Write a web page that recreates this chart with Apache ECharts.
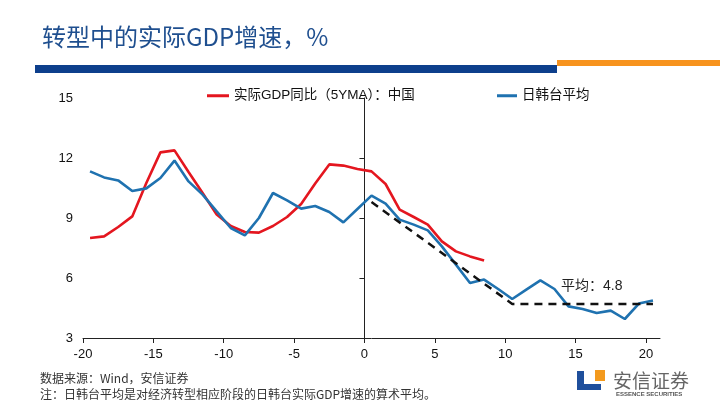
<!DOCTYPE html>
<html>
<head>
<meta charset="utf-8">
<script src="https://cdn.jsdelivr.net/npm/echarts@6/dist/echarts.min.js"></script>
<style>
html,body{margin:0;padding:0;background:#fff;}
#c{width:720px;height:405px;}
</style>
</head>
<body>
<div id="c"></div>
<script>
// ---- data ----
var chinaX = [-19.5,-18.5,-17.5,-16.5,-15.5,-14.5,-13.5,-12.5,-11.5,-10.5,-9.5,-8.5,-7.5,-6.5,-5.5,-4.5,-3.5,-2.5,-1.5,-0.5,0.5,1.5,2.5,3.5,4.5,5.5,6.5,7.5,8.5];
var chinaY = [8.0,8.08,8.55,9.08,10.75,12.28,12.38,11.3,10.25,9.17,8.6,8.3,8.27,8.6,9.05,9.7,10.72,11.68,11.62,11.45,11.33,10.7,9.42,9.05,8.67,7.83,7.33,7.08,6.87];
var asiaX = [-19.5,-18.5,-17.5,-16.5,-15.5,-14.5,-13.5,-12.5,-11.5,-10.5,-9.5,-8.5,-7.5,-6.5,-5.5,-4.5,-3.5,-2.5,-1.5,-0.5,0.5,1.5,2.5,3.5,4.5,5.5,6.5,7.5,8.5,9.5,10.5,11.5,12.5,13.5,14.5,15.5,16.5,17.5,18.5,19.5,20.5];
var asiaY = [11.33,11.03,10.88,10.35,10.48,11.0,11.87,10.83,10.17,9.33,8.5,8.13,9.0,10.25,9.88,9.47,9.6,9.3,8.78,9.45,10.12,9.72,8.92,8.67,8.38,7.58,6.67,5.75,5.92,5.45,4.95,5.42,5.88,5.45,4.58,4.45,4.25,4.37,3.95,4.72,4.88];
var trendX = [0.5,10.5,20.5];
var trendY = [9.8,4.7,4.7];
var seriesNames = ['实际GDP同比（5YMA）：中国','日韩台平均'];
var avgLabel = '平均：4.8';
var titleText = '转型中的实际GDP增速，%';
var sourceText = '数据来源：Wind，安信证券';
var noteText = '注：日韩台平均是对经济转型相应阶段的日韩台实际GDP增速的算术平均。';

function pairs(xs, ys){ return xs.map(function(x,i){ return [x, ys[i]]; }); }

var FONT = '"Liberation Sans", Arial, "Noto Sans CJK SC", sans-serif';
var CJK = '"Noto Sans CJK SC", sans-serif';
var chart = echarts.init(document.getElementById('c'), null, {renderer:'canvas'});
chart.setOption({
  animation:false,
  backgroundColor:'#fff',
  textStyle:{fontFamily:FONT},
  grid:{left:83, right:60, top:98, bottom:67, containLabel:false},
  legend:[
    {left:207, top:89, padding:0, itemWidth:22, itemHeight:3, icon:'rect',
     data:[seriesNames[0]], textStyle:{fontSize:13.5, color:'#111', fontFamily:FONT}},
    {left:497, top:89, padding:0, itemWidth:20, itemHeight:3, icon:'rect',
     data:[seriesNames[1]], textStyle:{fontSize:13.5, color:'#111', fontFamily:FONT}}
  ],
  xAxis:{
    type:'value', min:-20, max:21, interval:5,
    axisLine:{show:true, onZero:false, lineStyle:{color:'#222', width:1}},
    axisTick:{show:true, length:5, lineStyle:{color:'#222'}},
    axisLabel:{fontSize:13, color:'#111', margin:10, fontFamily:FONT},
    splitLine:{show:false}
  },
  yAxis:[
    {type:'value', min:3, max:15, interval:3, position:'left',
     axisLine:{show:false, onZero:false}, axisTick:{show:false},
     axisLabel:{fontSize:13, color:'#111', margin:10, fontFamily:FONT},
     splitLine:{show:false}},
    {type:'value', min:3, max:15, interval:3, position:'left',
     axisLine:{show:true, onZero:true, lineStyle:{color:'#222', width:1}},
     axisTick:{show:true, length:5, lineStyle:{color:'#222'}},
     axisLabel:{show:false}, splitLine:{show:false}}
  ],
  series:[
    {name:seriesNames[0], type:'line', data:pairs(chinaX, chinaY), showSymbol:false, symbol:'none',
     lineStyle:{color:'#e4161f', width:2.6}, itemStyle:{color:'#e4161f'}, z:3},
    {name:seriesNames[1], type:'line', data:pairs(asiaX, asiaY), showSymbol:false, symbol:'none',
     lineStyle:{color:'#1f72b0', width:2.6}, itemStyle:{color:'#1f72b0'}, z:4},
    {name:'trend', type:'line', data:pairs(trendX, trendY), showSymbol:false, symbol:'none',
     lineStyle:{color:'#111', width:2.5, type:[8,6]}, z:5}
  ],
  graphic:[
    {type:'text', left:42, top:25, style:{text:titleText, fontSize:24, fill:'#1f4f8f', fontFamily:CJK}},
    {type:'rect', shape:{x:35, y:65, width:522, height:8}, style:{fill:'#0d3f8c'}},
    {type:'rect', shape:{x:557, y:60, width:163, height:6}, style:{fill:'#f7931e'}},
    {type:'text', left:561, top:279, style:{text:avgLabel, fontSize:14, fill:'#222', fontFamily:FONT}},
    {type:'text', left:40, top:372, style:{text:sourceText, fontSize:12, fill:'#333', fontFamily:CJK}},
    {type:'text', left:40, top:388, style:{text:noteText, fontSize:12, fill:'#333', fontFamily:CJK}},
    // logo
    {type:'rect', shape:{x:577, y:371, width:7, height:19}, style:{fill:'#1f4f9c'}},
    {type:'rect', shape:{x:577, y:384, width:24, height:6}, style:{fill:'#1f4f9c'}},
    {type:'rect', shape:{x:595, y:370, width:10, height:11}, style:{fill:'#f39a1e'}},
    {type:'text', left:613, top:371, style:{text:'安信证券', fontSize:19, fill:'#666', fontFamily:CJK}},
    {type:'text', left:616, top:391, style:{text:'ESSENCE SECURITIES', fontSize:6, fill:'#555', fontWeight:'bold', fontFamily:FONT}}
  ]
});
</script>
</body>
</html>
